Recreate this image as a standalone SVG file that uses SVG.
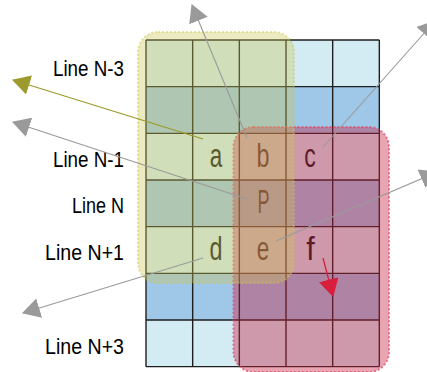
<svg xmlns="http://www.w3.org/2000/svg" width="427" height="372" viewBox="0 0 427 372">
<style>
.light{fill:#d3ecf4}
.dark{fill:#9ec7e8}
.grid line{stroke:#1e1e1e;stroke-width:1.4}
.lbl{font-family:"Liberation Sans",Arial,sans-serif;font-size:21.5px;fill:#000;text-anchor:end}
.cell{font-family:"Liberation Sans",Arial,sans-serif;font-size:33px;fill:#1a1a1a;text-anchor:middle}
.yel{fill:rgb(203,197,82);fill-opacity:0.36;stroke:rgb(203,197,82);stroke-opacity:0.5;stroke-width:2;stroke-dasharray:2 2}
.red{fill:rgb(200,30,60);fill-opacity:0.4;stroke:rgb(225,70,100);stroke-opacity:0.7;stroke-width:2;stroke-dasharray:2 2}
.arr{fill:none;stroke-width:1.1}
.g{stroke:#9a9a9a}
.o{stroke:#9c9a2c;stroke-width:1.3}
.r{stroke:#d81e3c;stroke-width:1.3}
</style>
<defs>
<marker id="mg" markerUnits="userSpaceOnUse" markerWidth="18" markerHeight="20" viewBox="0 0 17 19" refX="16" refY="9.5" orient="auto"><path d="M0,0 L17,9.5 L0,19 Z" fill="#9a9a9a"/></marker>
<marker id="mo" markerUnits="userSpaceOnUse" markerWidth="18" markerHeight="20" viewBox="0 0 17 19" refX="16" refY="9.5" orient="auto"><path d="M0,0 L17,9.5 L0,19 Z" fill="#9c9a2c"/></marker>
<marker id="mr" markerUnits="userSpaceOnUse" markerWidth="18" markerHeight="20" viewBox="0 0 17 19" refX="16" refY="9.5" orient="auto"><path d="M0,0 L17,9.5 L0,19 Z" fill="#d81e3c"/></marker>
</defs>
<rect width="427" height="372" fill="#fff"/>
<g id="rows">
<rect class="light" x="146" y="40" width="233.33" height="46.67"/>
<rect class="dark" x="146" y="86.67" width="233.33" height="46.67"/>
<rect class="light" x="146" y="133.33" width="233.33" height="46.67"/>
<rect class="dark" x="146" y="180" width="233.33" height="46.67"/>
<rect class="light" x="146" y="226.67" width="233.33" height="46.67"/>
<rect class="dark" x="146" y="273.33" width="233.33" height="46.67"/>
<rect class="light" x="146" y="320" width="233.33" height="46.67"/>
</g>
<g id="grid" class="grid">
<line x1="146" y1="40" x2="146" y2="366.67"/>
<line x1="192.67" y1="40" x2="192.67" y2="366.67"/>
<line x1="239.33" y1="40" x2="239.33" y2="366.67"/>
<line x1="286" y1="40" x2="286" y2="366.67"/>
<line x1="332.67" y1="40" x2="332.67" y2="366.67"/>
<line x1="379.33" y1="40" x2="379.33" y2="366.67"/>
<line x1="146" y1="40" x2="379.33" y2="40"/>
<line x1="146" y1="86.67" x2="379.33" y2="86.67"/>
<line x1="146" y1="133.33" x2="379.33" y2="133.33"/>
<line x1="146" y1="180" x2="379.33" y2="180"/>
<line x1="146" y1="226.67" x2="379.33" y2="226.67"/>
<line x1="146" y1="273.33" x2="379.33" y2="273.33"/>
<line x1="146" y1="320" x2="379.33" y2="320"/>
<line x1="146" y1="366.67" x2="379.33" y2="366.67"/>
</g>
<g id="cells">
<text id="a" class="cell" x="216" y="166.7" textLength="12.5" lengthAdjust="spacingAndGlyphs">a</text>
<text id="b" class="cell" x="263" y="166.7" textLength="13" lengthAdjust="spacingAndGlyphs">b</text>
<text id="c" class="cell" x="310" y="166.7" textLength="11.5" lengthAdjust="spacingAndGlyphs">c</text>
<text id="P" class="cell" x="263.5" y="213" textLength="12" lengthAdjust="spacingAndGlyphs">P</text>
<text id="d" class="cell" x="216" y="260" textLength="13" lengthAdjust="spacingAndGlyphs">d</text>
<text id="e" class="cell" x="263" y="260" textLength="12.5" lengthAdjust="spacingAndGlyphs">e</text>
<text id="f" class="cell" x="310.5" y="260" textLength="8.5" lengthAdjust="spacingAndGlyphs">f</text>
</g>
<g id="redRegion"><rect class="red" x="233.5" y="127" width="155.5" height="245" rx="20"/></g>
<g id="yellowRegion"><rect class="yel" x="138" y="32" width="156" height="251" rx="20"/></g>
<g id="labels">
<text class="lbl" x="124" y="76" textLength="71" lengthAdjust="spacingAndGlyphs">Line N-3</text>
<text class="lbl" x="124" y="166.7" textLength="71" lengthAdjust="spacingAndGlyphs">Line N-1</text>
<text class="lbl" x="124" y="213" textLength="52" lengthAdjust="spacingAndGlyphs">Line N</text>
<text class="lbl" x="124" y="260" textLength="79" lengthAdjust="spacingAndGlyphs">Line N+1</text>
<text class="lbl" x="124" y="354" textLength="79" lengthAdjust="spacingAndGlyphs">Line N+3</text>
</g>
<g id="connectors">
<line class="arr o" x1="203" y1="139" x2="13" y2="80" marker-end="url(#mo)"/>
<line class="arr g" x1="247" y1="199" x2="13" y2="122" marker-end="url(#mg)"/>
<line class="arr g" x1="247" y1="138" x2="192" y2="5" marker-end="url(#mg)"/>
<line class="arr g" x1="323" y1="147" x2="435" y2="21" marker-end="url(#mg)"/>
<line class="arr g" x1="276" y1="241" x2="437" y2="172" marker-end="url(#mg)"/>
<line class="arr g" x1="203" y1="258" x2="23" y2="313" marker-end="url(#mg)"/>
<line class="arr r" x1="323" y1="258" x2="333" y2="296" marker-end="url(#mr)"/>
</g>
</svg>
